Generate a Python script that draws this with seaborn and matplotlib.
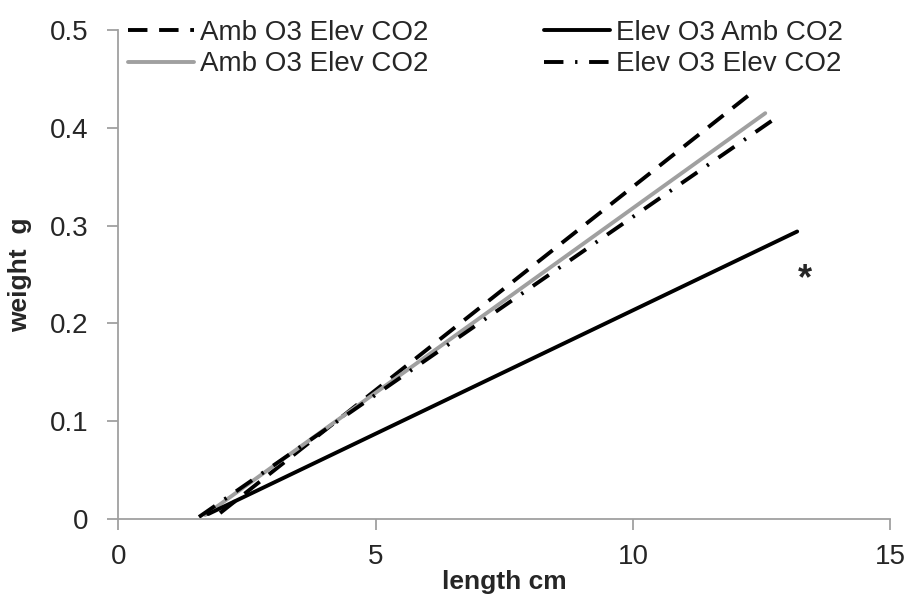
import matplotlib
matplotlib.use("Agg")
import matplotlib.pyplot as plt
import seaborn as sns
import pandas as pd

sns.set_theme(style="white")
plt.rcParams['font.family'] = ['Liberation Sans', 'DejaVu Sans']

labels = ["Amb O3 Elev CO2", "Amb O3 Elev CO2", "Elev O3 Amb CO2", "Elev O3 Elev CO2"]
x_start = [1.98, 1.69, 1.75, 1.57]
x_end = [12.24, 12.57, 13.19, 12.80]
y_start = [0.006, 0.004, 0.005, 0.002]
y_end = [0.433, 0.415, 0.294, 0.411]

colors = ["black", "#a0a0a0", "black", "black"]
styles = [(0, (5, 3)), "-", "-", (0, (5, 3, 0.6, 3))]

fig = plt.figure(figsize=(9.16, 6.02), dpi=100)
ax = fig.add_axes([0.129, 0.138, 0.843, 0.812])

for i in range(len(labels)):
    df = pd.DataFrame({"length": [x_start[i], x_end[i]], "weight": [y_start[i], y_end[i]]})
    sns.lineplot(data=df, x="length", y="weight", ax=ax, color=colors[i],
                 linestyle=styles[i], linewidth=2.8, label=labels[i])

ax.text(13.35, 0.245, "*", fontsize=26, fontweight="bold", ha="center", va="center")

ax.set_xlim(0, 15)
ax.set_ylim(0, 0.5)
ax.set_xticks([0, 5, 10, 15])
ax.set_yticks([0, 0.1, 0.2, 0.3, 0.4, 0.5])
ax.set_yticklabels(["0", "0.1", "0.2", "0.3", "0.4", "0.5"])
ax.tick_params(axis="both", labelsize=20, direction="out", length=8, width=1.3,
               color="#a0a0a0", left=True, bottom=True)
ax.tick_params(axis="y", pad=13.5)
ax.tick_params(axis="x", pad=10)
for s in ["top", "right"]:
    ax.spines[s].set_visible(False)
for s in ["left", "bottom"]:
    ax.spines[s].set_color("#a0a0a0")
    ax.spines[s].set_linewidth(1.3)
ax.set_xlabel("length cm", fontsize=19, fontweight="bold", labelpad=0)
ax.set_ylabel("weight  g", fontsize=19, fontweight="bold", labelpad=13)

ax.legend(ncol=2, loc="upper left", bbox_to_anchor=(-0.02, 1.072), frameon=False,
          fontsize=20, handlelength=2.4, columnspacing=4.15, labelspacing=0.2,
          handletextpad=0.2)

fig.savefig("out.png", dpi=100)
